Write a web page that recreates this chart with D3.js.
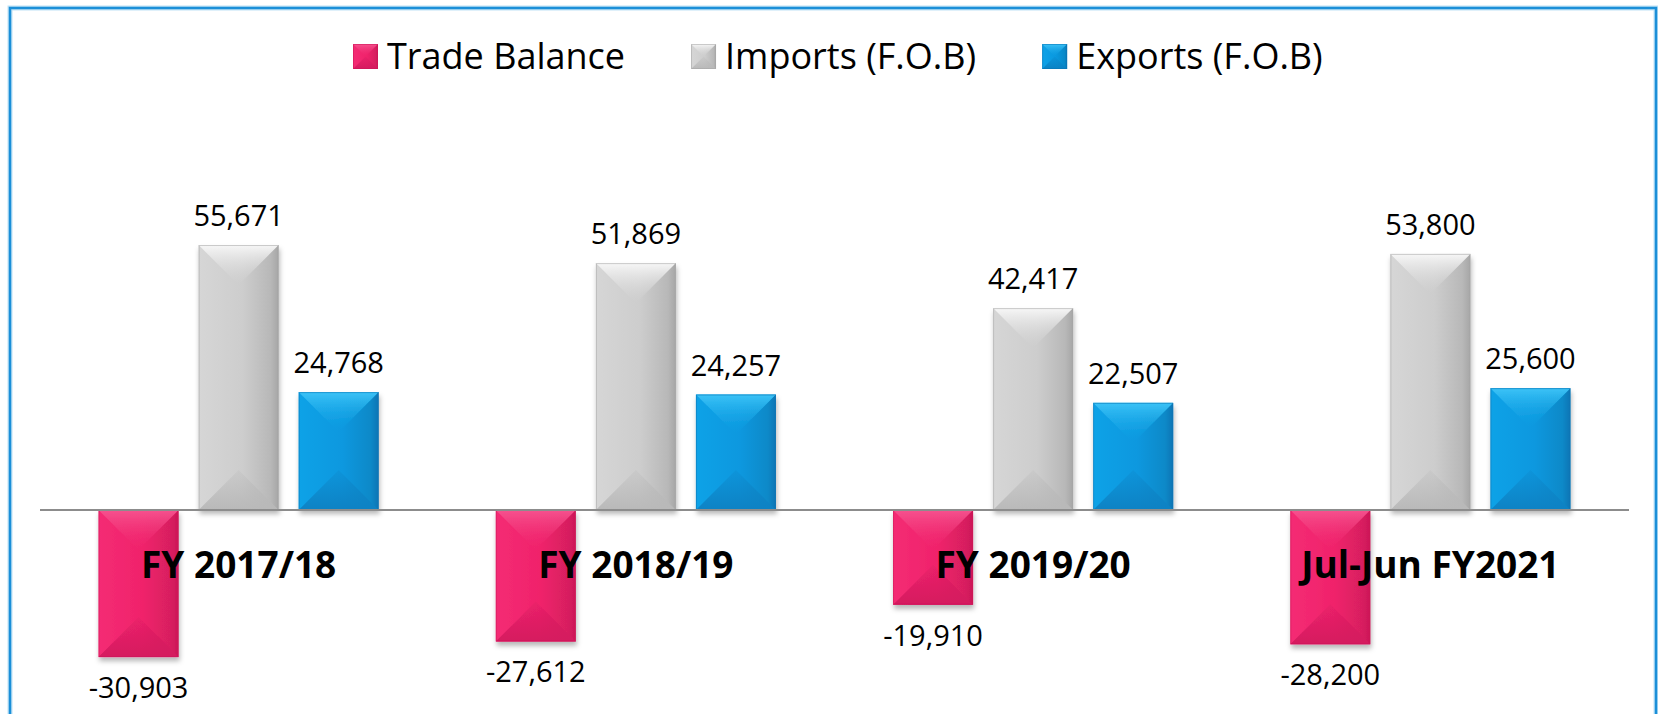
<!DOCTYPE html>
<html>
<head>
<meta charset="utf-8">
<script src="https://cdn.jsdelivr.net/npm/d3@7"></script>
<style>
  html, body { margin: 0; padding: 0; background: #fff; }
  svg { display: block; font-family: "Open Sans", "Noto Sans", sans-serif; }
</style>
</head>
<body>
<svg id="chart" width="1658" height="714"></svg>
<script>
// chart values
var categories = ["FY 2017/18", "FY 2018/19", "FY 2019/20", "Jul-Jun FY2021"];
var seriesNames = ["Trade Balance", "Imports (F.O.B)", "Exports (F.O.B)"];
var tradeBalance = [-30903, -27612, -19910, -28200];
var imports = [55671, 51869, 42417, 53800];
var exports = [24768, 24257, 22507, 25600];

var seriesValues = [tradeBalance, imports, exports];

// colours per series: base, lighter left, light top, dark right, dark bottom
var palette = [
  { base: "#f0226b", left: "#f42c74", top: "#f6538f", right: "#cc1557", bottom: "#d51a5f" },
  { base: "#cdcdcd", left: "#d6d6d6", top: "#f7f7f7", right: "#a6a6a6", bottom: "#b9b9b9" },
  { base: "#0998df", left: "#0fa2e7", top: "#3cc3f7", right: "#0a74b4", bottom: "#0a82c4" }
];

var fmt = d3.formatLocale({ decimal: ".", thousands: ",", grouping: [3], currency: ["", ""], minus: "-" }).format(",");

var svg = d3.select("#chart");
var defs = svg.append("defs");

var shadow = defs.append("filter").attr("id", "shadow")
  .attr("x", "-20%").attr("y", "-20%").attr("width", "150%").attr("height", "150%");
shadow.append("feDropShadow")
  .attr("dx", 1).attr("dy", 4).attr("stdDeviation", 2.5)
  .attr("flood-color", "#000").attr("flood-opacity", 0.28);

// gradients for the bevel faces
palette.forEach(function (p, i) {
  var g = defs.append("linearGradient").attr("id", "base" + i)
    .attr("x1", 0).attr("x2", 1).attr("y1", 0).attr("y2", 0);
  g.append("stop").attr("offset", 0).attr("stop-color", p.left);
  g.append("stop").attr("offset", 0.55).attr("stop-color", p.base);
  g.append("stop").attr("offset", 0.9).attr("stop-color", d3.color(p.base).darker(0.3));
  g.append("stop").attr("offset", 1).attr("stop-color", p.right);

  var t = defs.append("linearGradient").attr("id", "top" + i)
    .attr("x1", 0).attr("x2", 0).attr("y1", 0).attr("y2", 1);
  t.append("stop").attr("offset", 0).attr("stop-color", p.top);
  t.append("stop").attr("offset", 1).attr("stop-color", p.base).attr("stop-opacity", 0.2);

  var b = defs.append("linearGradient").attr("id", "bot" + i)
    .attr("x1", 0).attr("x2", 0).attr("y1", 0).attr("y2", 1);
  b.append("stop").attr("offset", 0).attr("stop-color", p.bottom).attr("stop-opacity", 0.2);
  b.append("stop").attr("offset", 1).attr("stop-color", p.bottom);
});

// outer frame
svg.append("rect")
  .attr("x", 10).attr("y", 8).attr("width", 1646).attr("height", 730)
  .attr("fill", "#fff").attr("stroke", "#bfe2f6").attr("stroke-width", 5);
svg.append("rect")
  .attr("x", 10).attr("y", 8).attr("width", 1646).attr("height", 730)
  .attr("fill", "none").attr("stroke", "#1b8fd8").attr("stroke-width", 2.5);

// scales
var x0 = d3.scaleBand().domain(categories).range([40, 1629]).padding(0);
var x1 = d3.scaleBand().domain(d3.range(3)).range([0, x0.bandwidth()])
  .paddingInner(0.2).paddingOuter(0.585);
var y = d3.scaleLinear().domain([-35000, 80000]).range([676.6, 129.2]);

var bars = [];
categories.forEach(function (c, ci) {
  seriesValues.forEach(function (vals, si) {
    bars.push({ cat: c, s: si, v: vals[ci] });
  });
});

// bevelled block: base + top/bottom triangles + darker right edge
function bevel(g, bx, by, w, h, s, withShadow) {
  var p = palette[s];
  var b = Math.min(w / 2, h / 2);
  var cx = bx + w / 2;
  var grp = g.append("g");
  if (withShadow) grp.attr("filter", "url(#shadow)");
  grp.append("rect").attr("x", bx).attr("y", by).attr("width", w).attr("height", h)
    .attr("fill", "url(#base" + s + ")");
  grp.append("polygon")
    .attr("points", [[bx, by + h], [bx + w, by + h], [cx, by + h - b]].join(" "))
    .attr("fill", "url(#bot" + s + ")");
  grp.append("polygon")
    .attr("points", [[bx, by], [bx + w, by], [cx, by + b]].join(" "))
    .attr("fill", "url(#top" + s + ")");
  grp.append("rect").attr("x", bx + 0.5).attr("y", by + 0.5).attr("width", w - 1).attr("height", h - 1)
    .attr("fill", "none").attr("stroke", p.right).attr("stroke-opacity", 0.55);
}

var barLayer = svg.append("g");
bars.forEach(function (d) {
  var top = Math.min(y(0), y(d.v));
  bevel(barLayer, x0(d.cat) + x1(d.s), top, x1.bandwidth(), Math.abs(y(d.v) - y(0)), d.s, true);
});

// zero line
svg.append("line")
  .attr("x1", x0.range()[0]).attr("x2", x0.range()[1])
  .attr("y1", y(0)).attr("y2", y(0))
  .attr("stroke", "#8c8c8c").attr("stroke-width", 2);

// value labels
svg.append("g").selectAll("text").data(bars).enter().append("text")
  .attr("x", function (d) { return x0(d.cat) + x1(d.s) + x1.bandwidth() / 2; })
  .attr("y", function (d) { return d.v >= 0 ? y(d.v) - 19 : y(d.v) + 41; })
  .attr("text-anchor", "middle")
  .attr("font-size", 29)
  .attr("fill", "#000")
  .text(function (d) { return fmt(d.v); });

// category labels
svg.append("g").selectAll("text").data(categories).enter().append("text")
  .attr("x", function (c) { return x0(c) + x0.bandwidth() / 2; })
  .attr("y", 578)
  .attr("text-anchor", "middle")
  .attr("font-size", 37).attr("font-weight", "bold")
  .attr("fill", "#000")
  .text(function (c) { return c; });

// legend
var legend = svg.append("g");
var lx = 353;
seriesNames.forEach(function (name, i) {
  bevel(legend, lx, 44, 25, 25, i, false);
  var t = legend.append("text").attr("x", lx + 34).attr("y", 69)
    .attr("font-size", 36).attr("fill", "#000").text(name);
  lx = lx + 34 + t.node().getComputedTextLength() + 66;
});
</script>
</body>
</html>
